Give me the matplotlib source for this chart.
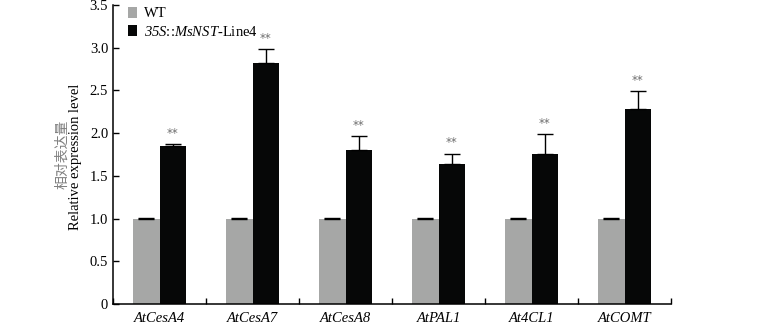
import matplotlib
matplotlib.use("Agg")
import matplotlib.pyplot as plt
import numpy as np

plt.rcParams["font.family"] = ["Liberation Serif", "Noto Sans CJK SC"]
# math segments are only used for the italic construct name, digits included
plt.rcParams["mathtext.fontset"] = "custom"
plt.rcParams["mathtext.it"] = "Liberation Serif:italic"
plt.rcParams["mathtext.rm"] = "Liberation Serif:italic"

genes = ["AtCesA4", "AtCesA7", "AtCesA8", "AtPAL1", "At4CL1", "AtCOMT"]
wt = [1.0, 1.0, 1.0, 1.0, 1.0, 1.0]
wt_err = [0.01, 0.01, 0.01, 0.01, 0.01, 0.01]
line4 = [1.85, 2.82, 1.80, 1.64, 1.76, 2.28]
line4_err = [0.02, 0.16, 0.17, 0.12, 0.23, 0.21]
sig = ["**", "**", "**", "**", "**", "**"]

yticks = [0, 0.5, 1.0, 1.5, 2.0, 2.5, 3.0, 3.5]
ytick_labels = ["0", "0.5", "1.0", "1.5", "2.0", "2.5", "3.0", "3.5"]

grey = "#a6a7a6"
black = "#060707"

fig = plt.figure(figsize=(7.6, 3.29), dpi=100)
ax = fig.add_axes([0.1487, 0.076, 0.7342, 0.9088])

x = np.arange(len(genes))
w = 0.29
zeros = np.zeros(len(genes))
ax.bar(x - w / 2, wt, w, color=grey, label="WT")
ax.bar(x + w / 2, line4, w, color=black,
       label=r"$\mathit{35S}$::$\mathit{MsNST}$-Line4")
ax.errorbar(x - w / 2, wt, yerr=[zeros, wt_err], fmt="none", ecolor="black",
            elinewidth=1, capsize=5.5, capthick=1)
ax.errorbar(x + w / 2, line4, yerr=[zeros, line4_err], fmt="none",
            ecolor="black", elinewidth=1, capsize=5.5, capthick=1)

for xi, v, e, s in zip(x, line4, line4_err, sig):
    ax.annotate(s, (xi + w / 2, v + e), xytext=(0, 3), textcoords="offset points",
                ha="center", va="bottom", fontsize=8.5, color="#6e6e6e",
                family="DejaVu Sans")

ax.set_xlim(-0.5, len(genes) - 0.5)
ax.set_ylim(0, 3.5)
ax.set_yticks(yticks)
ax.set_yticklabels(ytick_labels)

# group boundaries carry the ticks, gene names sit between them
ax.set_xticks(np.arange(-0.5, len(genes), 1.0))
ax.set_xticklabels([])
ax.set_xticks(x, minor=True)
ax.set_xticklabels(genes, minor=True, style="italic")
ax.tick_params(axis="x", which="major", direction="in", length=4, width=1)
ax.tick_params(axis="x", which="minor", length=0, pad=6, labelsize=10.5)
ax.tick_params(axis="y", direction="in", length=4, width=1, labelsize=10.5)

for side in ["top", "right"]:
    ax.spines[side].set_visible(False)
for side in ["left", "bottom"]:
    ax.spines[side].set_linewidth(1.1)

ax.legend(loc="upper left", bbox_to_anchor=(128 / 760, 1 - 7 / 329),
          bbox_transform=fig.transFigure, frameon=False, fontsize=10.5,
          handlelength=0.65, handleheight=0.75, handletextpad=0.45,
          borderpad=0, labelspacing=0.3, borderaxespad=0)

fig.text(62 / 760, 1 - 154 / 329, "相对表达量", rotation=90, ha="center",
         va="center", fontsize=10, color="#808080",
         family=["Noto Sans CJK SC", "DejaVu Sans"])
fig.text(75 / 760, 1 - 157 / 329, "Relative expression level", rotation=90,
         ha="center", va="center", fontsize=10.5)

fig.savefig("out.png", dpi=100)
